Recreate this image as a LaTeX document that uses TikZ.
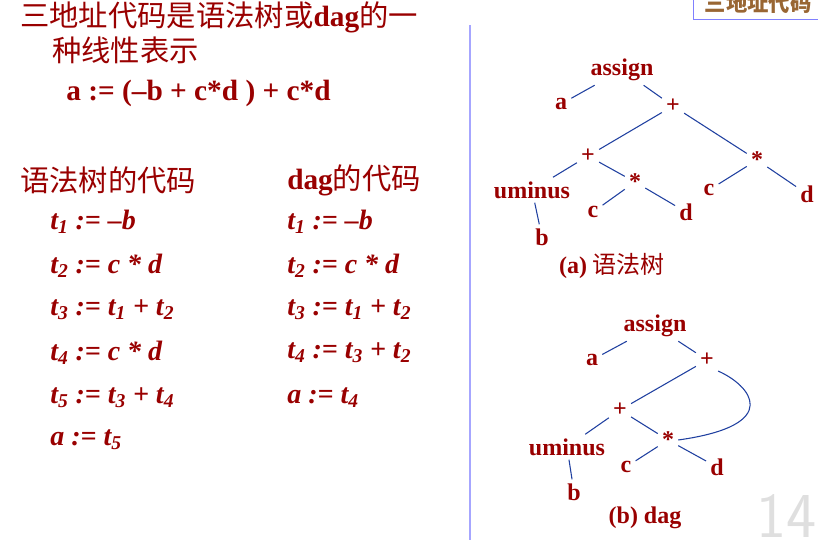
\documentclass[tikz,border=0pt]{standalone}
\usepackage{fontspec}
\setmainfont{Liberation Serif}
\newfontfamily\cjk{Noto Sans CJK SC}
\usetikzlibrary{positioning}
\definecolor{darkred}{RGB}{153,0,0}
\definecolor{treeblue}{RGB}{32,64,160}
\tikzset{
  txt/.style={text=darkred, font=\bfseries\fontsize{22}{26}\selectfont, anchor=west, inner sep=0pt},
  code/.style={text=darkred, font=\bfseries\itshape\fontsize{21}{24}\selectfont, anchor=west, inner sep=0pt},
  tnode/.style={text=darkred, font=\bfseries\fontsize{18}{20}\selectfont, inner sep=3pt},
  edge/.style={draw=treeblue, thick}
}
\newcommand{\zh}[1]{{\cjk\mdseries #1}}
\begin{document}
\begin{tikzpicture}[x=0.75pt,y=-0.75pt]
  \useasboundingbox (0,0) rectangle (818,542);
  \begin{scope}
    \clip (0,0) rectangle (818,542);
    \draw[blue!50, fill=white] (693,-10) rectangle (830,19);
    \node[anchor=west, text=brown!80!black, font=\cjk\bfseries\fontsize{16}{18}\selectfont] (tag) at (700,3) {三地址代码};
    \node[anchor=west, text=gray!25, font=\sffamily\fontsize{48}{50}\selectfont] (page) at (752,516) {14};
  \end{scope}
  \draw[blue!35, thick] (470,25) -- (470,540);
  % left text
  \node[txt] (t1) at (20,17) {\zh{三地址代码是语法树或}dag\zh{的一}};
  \node[txt] (t2) at (52,50) {\zh{种线性表示}};
  \node[txt] (expr) at (66,93) {a := (–b + c*d ) + c*d};
  \node[txt] (hl) at (20,180) {\zh{语法树的代码}};
  \node[txt] (hr) at (287,180) {dag\zh{的代码}};
  \node[code] (l1) at (50,222) {t\textsubscript{1} := –b};
  \node[code] (l2) at (50,266) {t\textsubscript{2} := c * d};
  \node[code] (l3) at (50,310) {t\textsubscript{3} := t\textsubscript{1} + t\textsubscript{2}};
  \node[code] (l4) at (50,353) {t\textsubscript{4} := c * d};
  \node[code] (l5) at (50,398) {t\textsubscript{5} := t\textsubscript{3} + t\textsubscript{4}};
  \node[code] (l6) at (50,440) {a := t\textsubscript{5}};
  \node[code] (r1) at (287,222) {t\textsubscript{1} := –b};
  \node[code] (r2) at (287,266) {t\textsubscript{2} := c * d};
  \node[code] (r3) at (287,310) {t\textsubscript{3} := t\textsubscript{1} + t\textsubscript{2}};
  \node[code] (r4) at (287,353) {t\textsubscript{4} := t\textsubscript{3} + t\textsubscript{2}};
  \node[code] (r5) at (287,398) {a := t\textsubscript{4}};
  % (a) syntax tree
  \node[tnode] (aA) at (622,70) {assign};
  \node[tnode] (aa) at (561,104) {a};
  \node[tnode] (ap1) at (673,106) {+};
  \node[tnode] (ap2) at (588,156) {+};
  \node[tnode] (am2) at (757,160) {*};
  \node[tnode] (au) at (532,190) {uminus};
  \node[tnode] (am1) at (635,182) {*};
  \node[tnode] (ac1) at (593,212) {c};
  \node[tnode] (ad1) at (686,212) {d};
  \node[tnode] (ac2) at (709,190) {c};
  \node[tnode] (ad2) at (807,194) {d};
  \node[tnode] (ab) at (542,237) {b};
  \node[tnode] (capa) at (612,266) {(a) \zh{语法树}};
  \draw[edge] (aA) -- (aa);
  \draw[edge] (aA) -- (ap1);
  \draw[edge] (ap1) -- (ap2);
  \draw[edge] (ap1) -- (am2);
  \draw[edge] (ap2) -- (au);
  \draw[edge] (ap2) -- (am1);
  \draw[edge] (am1) -- (ac1);
  \draw[edge] (am1) -- (ad1);
  \draw[edge] (am2) -- (ac2);
  \draw[edge] (am2) -- (ad2);
  \draw[edge] (au) -- (ab);
  % (b) dag
  \node[tnode] (bA) at (655,326) {assign};
  \node[tnode] (ba) at (592,360) {a};
  \node[tnode] (bp1) at (707,360) {+};
  \node[tnode] (bp2) at (620,410) {+};
  \node[tnode] (bu) at (567,447) {uminus};
  \node[tnode] (bm) at (668,440) {*};
  \node[tnode] (bc) at (626,467) {c};
  \node[tnode] (bd) at (717,467) {d};
  \node[tnode] (bb) at (574,492) {b};
  \node[tnode] (capb) at (645,518) {(b) dag};
  \draw[edge] (bA) -- (ba);
  \draw[edge] (bA) -- (bp1);
  \draw[edge] (bp1) -- (bp2);
  \draw[edge] (bp2) -- (bu);
  \draw[edge] (bp2) -- (bm);
  \draw[edge] (bm) -- (bc);
  \draw[edge] (bm) -- (bd);
  \draw[edge] (bu) -- (bb);
  \draw[edge] (bp1.south east) .. controls (750,385) and (785,425) .. (bm.east);
\end{tikzpicture}
\end{document}
